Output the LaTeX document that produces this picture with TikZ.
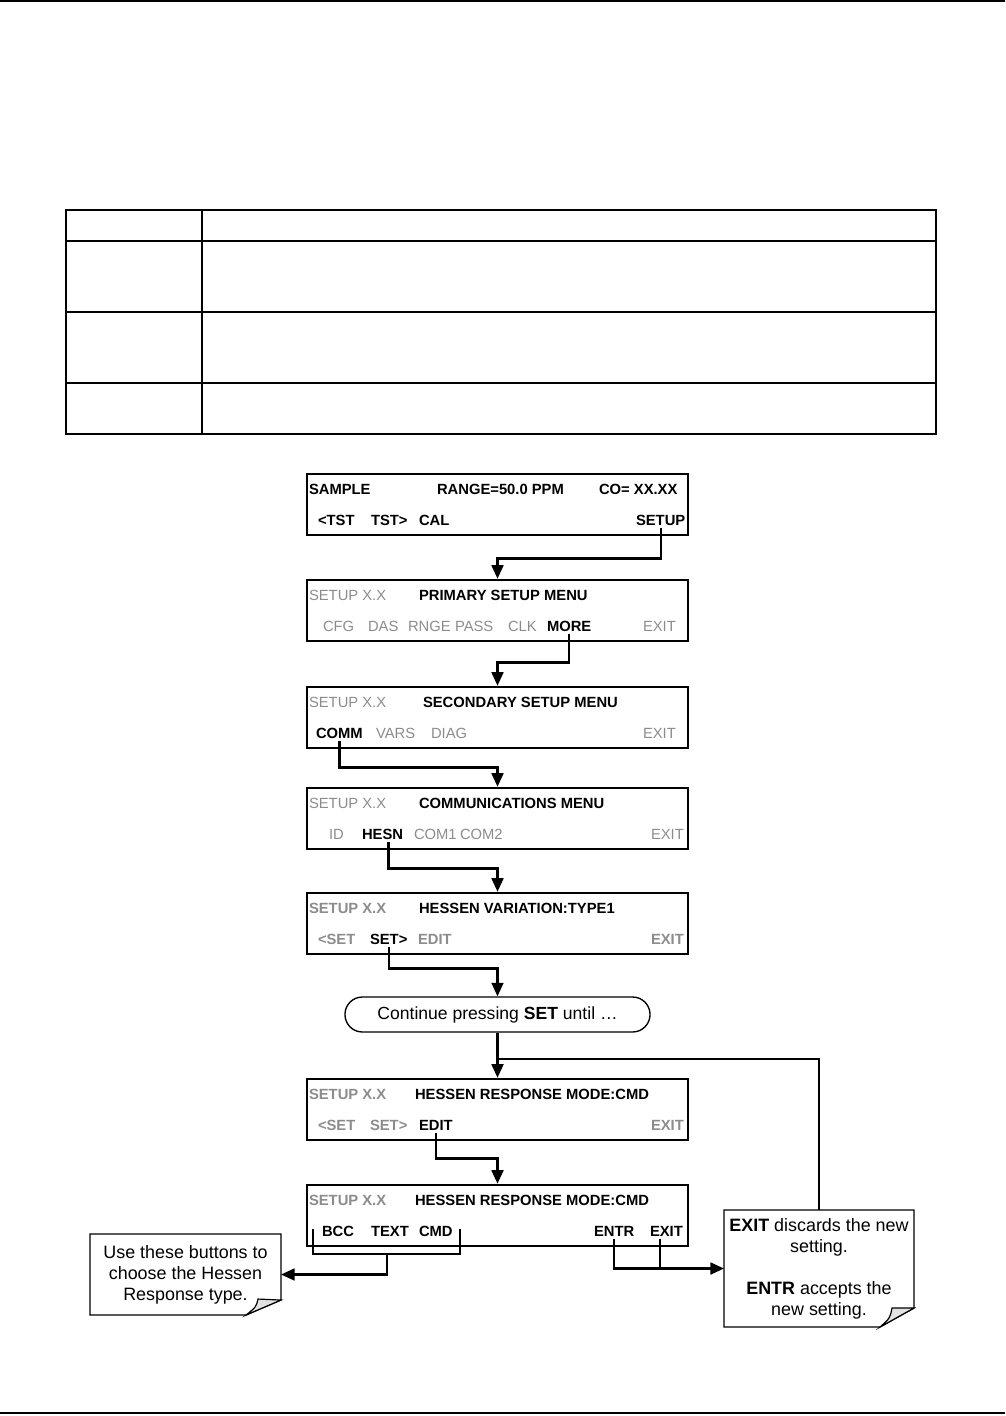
\documentclass[tikz,border=0pt]{standalone}
\usepackage{fontspec}
\setmainfont{Liberation Sans}
\usetikzlibrary{arrows.meta,positioning,calc}
\definecolor{lcdgray}{HTML}{8C8C8C}
\definecolor{foldgray}{HTML}{E2E2E2}
\tikzset{
  >={Triangle[length=8pt,width=7pt]},
  % displays
  lcd/.style={draw=black,line width=1.5pt,inner sep=0pt,
              minimum width=225.6pt,minimum height=36.1pt},
  kb/.style={anchor=base west,inner sep=0pt,outer sep=0pt,
             font=\fontsize{8.75}{10}\selectfont\bfseries},
  kg/.style={kb,text=lcdgray,font=\fontsize{8.75}{10}\selectfont},
  kgb/.style={kb,text=lcdgray},
  % connectors
  link/.style={draw=black,line width=1.3pt},
  lnk/.style={->,link},
  % notes
  pill/.style={draw=black,line width=0.8pt,rounded corners=10.3pt,
               minimum width=180.6pt,minimum height=20.7pt,
               font=\fontsize{10.4}{12.4}\selectfont},
  note/.style={inner sep=0pt,outer sep=0pt,align=center,
               font=\fontsize{10.6}{12.4}\selectfont},
  noteline/.style={draw=black,line width=0.7pt},
  fold/.style={draw=black,line width=0.7pt,fill=foldgray},
  tbl/.style={draw=black,line width=0.9pt},
}
\begin{document}
\begin{tikzpicture}[x=0.592pt,y=-0.592pt]
  \useasboundingbox (0,0) rectangle (1005,1416);
  % page rules and empty table
  \draw[line width=1.3pt] (0,1) -- (1005,1);
  \draw[line width=1.3pt] (0,1413) -- (1005,1413);
  \draw[tbl] (66,210) rectangle (936,434);
  \draw[tbl] (202,210) -- (202,434);
  \draw[tbl] (66,241) -- (936,241);
  \draw[tbl] (66,312) -- (936,312);
  \draw[tbl] (66,383) -- (936,383);

  % screens
  \node[lcd] (m1) at (497.5,504.5) {};
  \node[kb] (t1a) at (309,494) {SAMPLE};
  \node[kb] (t1b) at (437,494) {RANGE=50.0 PPM};
  \node[kb] (t1c) at (599,494) {CO= XX.XX};
  \node[kb] (b1tl) at (318,525) {<TST};
  \node[kb] (b1tr) at (371,525) {TST>};
  \node[kb] (b1cal) at (419,525) {CAL};
  \node[kb] (b1setup) at (636,525) {SETUP};

  \node[lcd] (m2) at (497.5,610.5) {};
  \node[kg] (t2a) at (309,600) {SETUP X.X};
  \node[kb] (t2b) at (419,600) {PRIMARY SETUP MENU};
  \node[kg] (b2cfg) at (323,631) {CFG};
  \node[kg] (b2das) at (368,631) {DAS};
  \node[kg] (b2rnge) at (408,631) {RNGE};
  \node[kg] (b2pass) at (455,631) {PASS};
  \node[kg] (b2clk) at (508,631) {CLK};
  \node[kb] (b2more) at (547,631) {MORE};
  \node[kg] (b2exit) at (643,631) {EXIT};

  \node[lcd] (m3) at (497.5,717.5) {};
  \node[kg] (t3a) at (309,707) {SETUP X.X};
  \node[kb] (t3b) at (423,707) {SECONDARY SETUP MENU};
  \node[kb] (b3comm) at (316,738) {COMM};
  \node[kg] (b3vars) at (376,738) {VARS};
  \node[kg] (b3diag) at (431,738) {DIAG};
  \node[kg] (b3exit) at (643,738) {EXIT};

  \node[lcd] (m4) at (497.5,818.5) {};
  \node[kg] (t4a) at (309,808) {SETUP X.X};
  \node[kb] (t4b) at (419,808) {COMMUNICATIONS MENU};
  \node[kg] (b4id) at (329,839) {ID};
  \node[kb] (b4hesn) at (362,839) {HESN};
  \node[kg] (b4com1) at (414,839) {COM1};
  \node[kg] (b4com2) at (460,839) {COM2};
  \node[kg] (b4exit) at (651,839) {EXIT};

  \node[lcd] (m5) at (497.5,923.5) {};
  \node[kgb] (t5a) at (309,913) {SETUP X.X};
  \node[kb] (t5b) at (419,913) {HESSEN VARIATION:TYPE1};
  \node[kgb] (b5prev) at (318,944) {<SET};
  \node[kb] (b5set) at (370,944) {SET>};
  \node[kgb] (b5edit) at (418,944) {EDIT};
  \node[kgb] (b5exit) at (651,944) {EXIT};

  \node[pill] (cont) at (497.5,1014.5) {Continue pressing \textbf{SET} until \dots};

  \node[lcd] (m6) at (497.5,1109.5) {};
  \node[kgb] (t6a) at (309,1099) {SETUP X.X};
  \node[kb] (t6b) at (415,1099) {HESSEN RESPONSE MODE:CMD};
  \node[kgb] (b6prev) at (318,1130) {<SET};
  \node[kgb] (b6next) at (370,1130) {SET>};
  \node[kb] (b6edit) at (419,1130) {EDIT};
  \node[kgb] (b6exit) at (651,1130) {EXIT};

  \node[lcd] (m7) at (497.5,1215.5) {};
  \node[kgb] (t7a) at (309,1205) {SETUP X.X};
  \node[kb] (t7b) at (415,1205) {HESSEN RESPONSE MODE:CMD};
  \node[kb] (b7bcc) at (322,1236) {BCC};
  \node[kb] (b7text) at (371,1236) {TEXT};
  \node[kb] (b7cmd) at (419,1236) {CMD};
  \node[kb] (b7entr) at (594,1236) {ENTR};
  \node[kb] (b7exit) at (650,1236) {EXIT};

  % callouts
  \node[note,minimum width=113.1pt,minimum height=48pt] (note1) at (185.5,1274.5)
    {Use these buttons to\\choose the Hessen\\Response type.};
  \node[note,minimum width=112.5pt,minimum height=69.3pt] (note2) at (819,1268.5)
    {\textbf{EXIT} discards the new\\setting.\\[12.4pt]\textbf{ENTR} accepts the\\new setting.};
  \draw[noteline] (note1.north west) -- (note1.north east)
    -- ($(note1.south east)+(0,-15)$) -- ($(note1.south east)+(-35,0)$)
    -- (note1.south west) -- cycle;
  \draw[fold] ($(note1.south east)+(0,-15)$) -- ($(note1.south east)+(-23,-16)$)
    .. controls ($(note1.south east)+(-25,-8)$) .. ($(note1.south east)+(-35,0)$) -- cycle;
  \draw[noteline] (note2.north west) -- (note2.north east)
    -- ($(note2.south east)+(0,-19)$) -- ($(note2.south east)+(-34,0)$)
    -- (note2.south west) -- cycle;
  \draw[fold] ($(note2.south east)+(0,-19)$) -- ($(note2.south east)+(-22,-19)$)
    .. controls ($(note2.south east)+(-24,-9)$) .. ($(note2.south east)+(-34,0)$) -- cycle;

  % flow
  \draw[lnk] ([yshift=-1.5pt]b1setup.base) -- ++(0,31) -| (m2.north);
  \draw[lnk] ([yshift=-1.5pt]b2more.base) -- ++(0,29) -| (m3.north);
  \draw[lnk] ([yshift=-1.5pt]b3comm.base) -- ++(0,27) -| (m4.north);
  \draw[lnk] ([xshift=3.5pt,yshift=-1.5pt]b4hesn.base) -- ++(0,27) -| (m5.north);
  \draw[lnk] ([yshift=-1.5pt]b5set.base) -- ++(0,22) -| (cont.north);
  \draw[lnk] (cont.south) -- (m6.north);
  \coordinate (jn) at (497.5,1059);
  \draw[link] (note2.north) |- (jn);
  \draw[lnk] ([yshift=-1.5pt]b6edit.base) -- ++(0,26) -| (m7.north);
  \coordinate (brl) at (313,1229);
  \coordinate (brr) at (460,1229);
  \coordinate (brm) at (387,1254);
  \draw[link] (brl) -- ++(0,25) -| (brr);
  \draw[lnk] (brm) |- (note1.east);
  \draw[lnk] ([yshift=-1.5pt]b7entr.base) |- (note2.west);
  \draw[link] ([xshift=-4pt,yshift=-1.5pt]b7exit.base) -- ([xshift=-4pt]b7exit.base |- note2.west);
\end{tikzpicture}
\end{document}
